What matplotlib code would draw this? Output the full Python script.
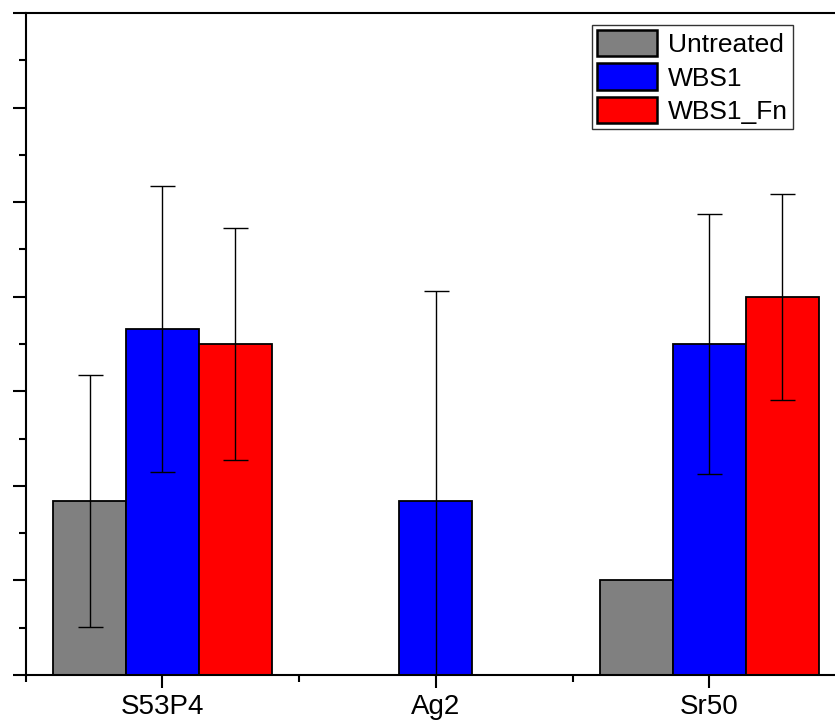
import matplotlib.pyplot as plt
import numpy as np
from matplotlib.ticker import MultipleLocator

# data (y axis has no labels in the picture)
samples = ["S53P4", "Ag2", "Sr50"]
series = ["Untreated", "WBS1", "WBS1_Fn"]
untreated = [1.84, 0.0, 1.0]
wbs1 = [3.66, 1.84, 3.50]
wbs1_fn = [3.50, 0.0, 4.0]
untreated_err = [1.33, 0.0, 0.0]
wbs1_err = [1.51, 2.22, 1.37]
wbs1_fn_err = [1.23, 0.0, 1.09]
colors = ["#808080", "#0000FF", "#FF0000"]

plt.rcParams['font.family'] = ['Liberation Sans', 'DejaVu Sans']

fig = plt.figure(figsize=(8.35, 7.22), dpi=100)
# right edge of the plot sits just outside the picture, as in the reference
ax = fig.add_axes([0.0308, 0.0651, 0.9824, 0.917])

x = np.arange(1, len(samples) + 1)
width = 0.8 / 3
values = [untreated, wbs1, wbs1_fn]
errors = [untreated_err, wbs1_err, wbs1_fn_err]

for i, (name, vals, errs, col) in enumerate(zip(series, values, errors, colors)):
    pos = x + (i - 1) * width
    ax.bar(pos, vals, width, color=col, edgecolor="black", linewidth=1.3,
           label=name, zorder=2)
    errs = np.array(errs)
    mask = errs > 0
    ax.errorbar(pos[mask], np.array(vals)[mask], yerr=errs[mask], fmt="none",
                ecolor="black", elinewidth=1.0, capsize=9, capthick=1.0,
                zorder=3)

ax.set_xlim(0.5, 3.5)
ax.set_ylim(0, 7)
ax.set_xticks(x)
ax.set_xticklabels(samples, fontsize=20)
# minor x ticks between categories
ax.set_xticks([0.5, 1.5, 2.5, 3.5], minor=True)
ax.yaxis.set_major_locator(MultipleLocator(1))
ax.yaxis.set_minor_locator(MultipleLocator(0.5))

ax.tick_params(axis="both", which="major", direction="out", length=9.5,
               width=1.5, pad=4)
ax.tick_params(axis="both", which="minor", direction="out", length=5,
               width=1.5)
ax.tick_params(axis="y", which="both", labelleft=False)

for side in ["left", "bottom", "top", "right"]:
    ax.spines[side].set_linewidth(1.5)

leg = ax.legend(loc="upper right", bbox_to_anchor=(0.9354, 0.982),
                fontsize=19, frameon=True, fancybox=False, framealpha=1,
                edgecolor="#333333", handlelength=2.27, handleheight=1.15,
                handletextpad=0.4, labelspacing=0.24, borderpad=0.2,
                borderaxespad=0)
leg.get_frame().set_linewidth(1.0)
for h in leg.legend_handles:
    h.set_linewidth(1.8)

fig.savefig("out.png", dpi=100)
